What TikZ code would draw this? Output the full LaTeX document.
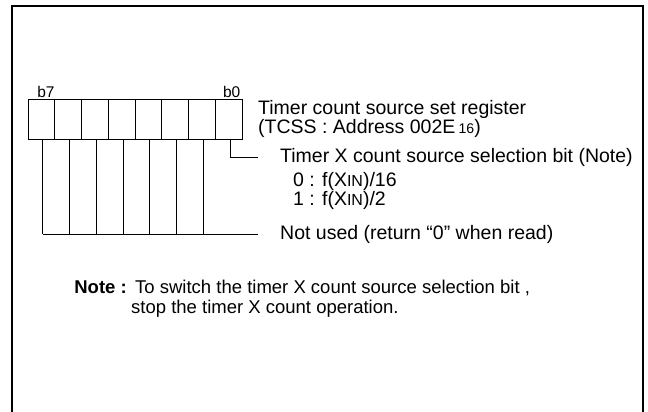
\documentclass[tikz,border=0pt]{standalone}
\usepackage{fontspec}
\setmainfont{Liberation Sans}
\usetikzlibrary{positioning}
\tikzstyle{cell} = [rectangle, draw=black, line width=0.8pt, minimum width=26.75pt, minimum height=40pt, inner sep=0pt, outer sep=0pt]
\tikzstyle{bitlbl} = [inner sep=0pt, font=\fontsize{15.5}{15.5}\selectfont]
\tikzstyle{desc} = [anchor=west, inner sep=0pt, align=left, font=\fontsize{19.5}{19}\selectfont]
\tikzstyle{notetext} = [inner sep=0pt, font=\fontsize{18.5}{19}\selectfont]
\tikzstyle{lead} = [line width=0.8pt]
\tikzstyle{frame} = [line width=2.6pt, draw=black]
\newcommand{\lowsub}[1]{{\fontsize{14}{14}\selectfont #1}}
\newcommand{\xin}{X{\fontsize{16}{16}\selectfont IN}}

\begin{document}
\begin{tikzpicture}[x=1pt, y=-1pt]
\useasboundingbox (0,0) rectangle (648,412);
% open frame round the register figure
\coordinate (fbl) at (12,412);
\coordinate (ftl) at (12,6);
\coordinate (ftr) at (643,6);
\coordinate (fbr) at (643,412);
\draw [frame] (fbl) -- (ftl) -- (ftr) -- (fbr);

% register cells, b7 on the left
\foreach \i in {0,...,7}
  \node (c\i) [cell] at ({28+(7-\i+0.5)*26.75}, 119) {};

\node (b7) [bitlbl, above=1.5pt of c7.north, xshift=4.5pt] {b7};
\node (b0) [bitlbl, above=1.5pt of c0.north, xshift=3pt] {b0};

\node (reg) [desc, right=16pt of c0] {Timer count source set register\\(TCSS : Address 002E\,\lowsub{16})};

% bit 0
\coordinate (selend) at (258,157);
\draw [lead] ([xshift=1.5pt]c0.south) |- (selend);
\node (sel) [desc, right=22pt of selend] {Timer X count source selection bit (Note)};
\node (selval) [desc, font=\fontsize{19.5}{19}\selectfont, below right=5.5pt and 13pt of sel.south west, anchor=north west] {0 : f(\xin)/16\\1 : f(\xin)/2};

% bits 7 to 1
\coordinate (nuend) at (258,234);
\foreach \i in {1,...,7}
  \draw [lead] ([xshift=1.3pt]c\i.south) -- ([xshift=1.3pt]c\i.south |- nuend);
\draw [lead] ([xshift=1.3pt]c7.south |- nuend) -- (nuend);
\node (nu) [desc, right=22pt of nuend] {Not used (return “0” when read)};

% note
\node (notehead) [notetext, anchor=base east, font={\fontsize{18.5}{19}\selectfont\bfseries}] at (127,293) {Note :};
\node (note1) [notetext, anchor=base west] at ([xshift=8pt]notehead.base east) {To switch the timer X count source selection bit ,};
\node (note2) [notetext, anchor=base west] at (131,313) {stop the timer X count operation.};
\end{tikzpicture}
\end{document}
